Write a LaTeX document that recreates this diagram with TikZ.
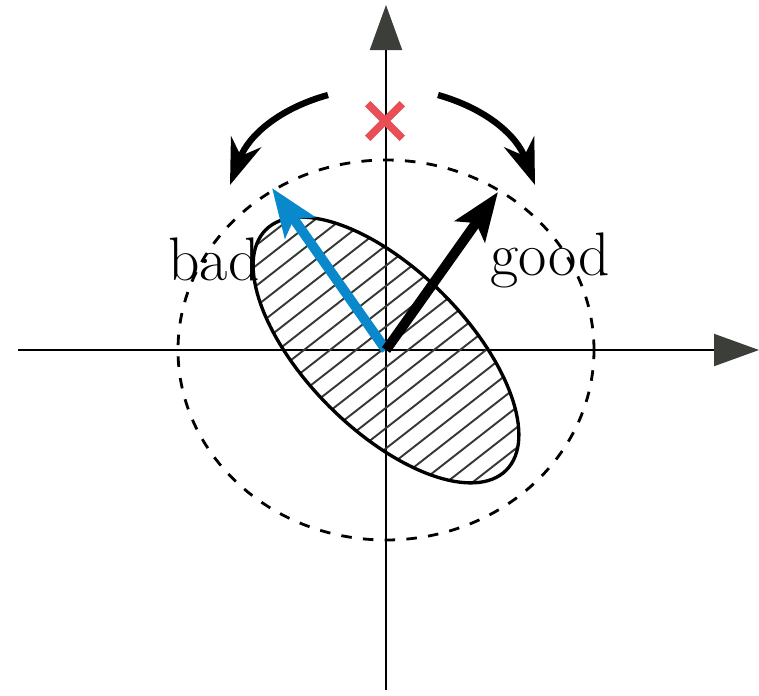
\documentclass[tikz,border=0pt]{standalone}
\usepackage{tikz}
\usetikzlibrary{
	arrows.meta,
	positioning,
	calc,
	shapes.misc
}
\usepackage{xcolor}

\definecolor{axisgray}{HTML}{3B3E39}
\definecolor{hatchgray}{HTML}{363933}
\definecolor{badblue}{HTML}{0A88CC}
\definecolor{crossred}{HTML}{E84E55}

\tikzset{
	axis/.style={line width=0.6pt, -{Triangle[length=4.5mm,width=3.2mm,color=axisgray]}},
	turn/.style={line width=1.8pt, -{Stealth[length=4.6mm,width=3.2mm,inset=1.5mm]}},
	vec/.style={line width=2.8pt, -{Stealth[length=4.8mm,width=3.6mm,inset=1mm]}},
	word/.style={font=\fontsize{17.5}{20}\selectfont, inner sep=0pt, anchor=base}
}

\begin{document}
\begin{tikzpicture}
		
		\useasboundingbox (-3.86,-3.45) rectangle (3.73,3.50);
		
		% Axes
		\coordinate (O) at (0,0);
		\coordinate (xl) at (-3.68,0);
		\coordinate (xr) at (3.73,0);
		\coordinate (yb) at (0,-3.40);
		\coordinate (yt) at (0,3.45);
		\draw[axis] (xl) -- (xr);
		\draw[axis] (yb) -- (yt);
		
		% Hatched ellipse
		\begin{scope}
			\clip (O) ellipse[x radius=1.7, y radius=0.8, rotate=-45];
			\foreach \c in {-3.16,-2.9,...,3.3}
			\draw[hatchgray, line width=0.55pt] (\c-2.6,-2.03) -- (\c+2.6,2.03);
		\end{scope}
		\draw[line width=0.95pt] (O) ellipse[x radius=1.7, y radius=0.8, rotate=-45];
		
		% Vectors
		\coordinate (bluetip) at (-1.14,1.62);
		\coordinate (blacktip) at (1.12,1.58);
		\draw[vec, badblue] (O) -- (bluetip);
		\draw[vec, black] (O) -- (blacktip);
		
		% Labels
		\node[word] (bad) at (-1.72,0.70) {bad};
		\node[word] (good) at (1.64,0.75) {good};
		
		% Dashed circle
		\draw[line width=0.8pt, dash pattern=on 3pt off 3.2pt] (O) ellipse[x radius=2.08, y radius=1.90];
		
		% Rotation arrows
		\coordinate (la) at (-0.58,2.55);
		\coordinate (lb) at (-1.56,1.65);
		\coordinate (ra) at (0.52,2.55);
		\coordinate (rb) at (1.49,1.65);
		\draw[turn] (la) to[bend right=27] (lb);
		\draw[turn] (ra) to[bend left=27] (rb);
		
		% Cross
		\node[cross out, draw=crossred, line width=2.2pt, minimum size=0.27cm, inner sep=0pt] (cross) at (-0.01,2.29) {};
		
	\end{tikzpicture}
\end{document}
